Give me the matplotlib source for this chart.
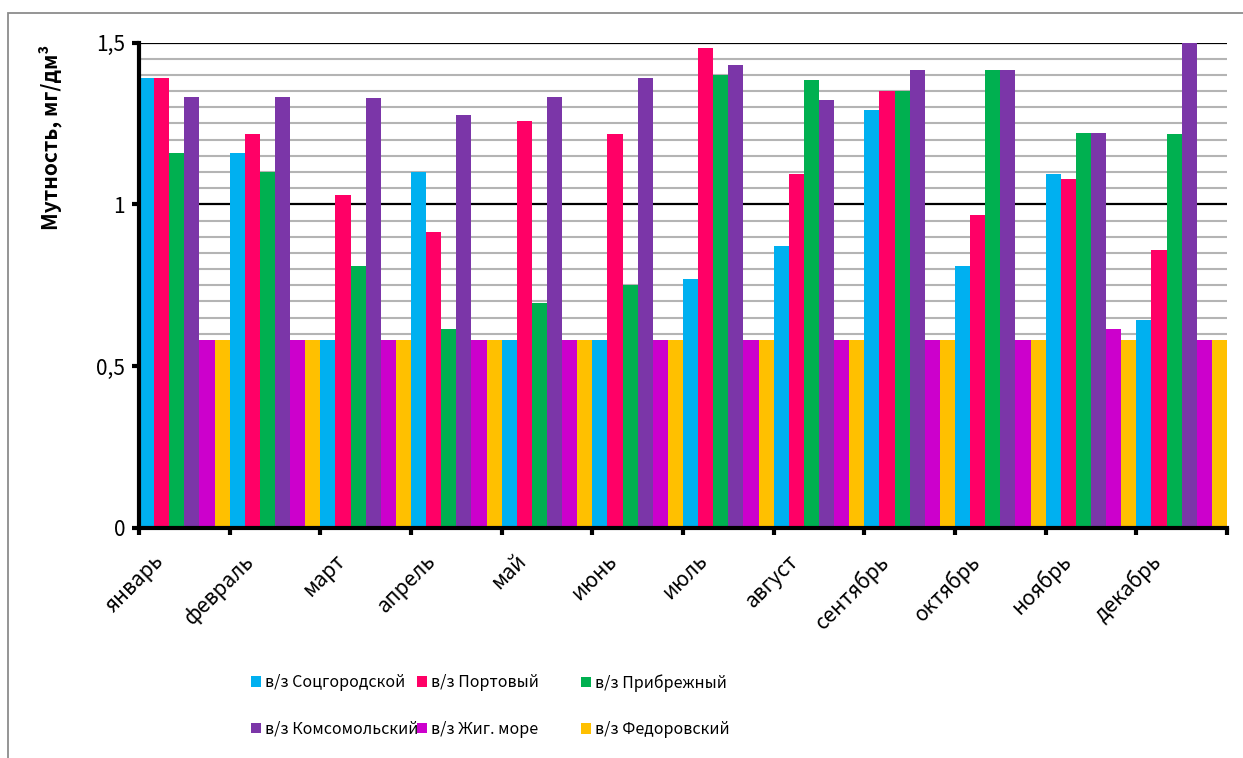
import matplotlib
matplotlib.use("Agg")
import matplotlib.pyplot as plt
from matplotlib.patches import Rectangle, Patch
from matplotlib.ticker import MultipleLocator, FixedLocator
import matplotlib.transforms as mtransforms
import numpy as np

plt.rcParams['font.family'] = ['Noto Sans CJK SC', 'DejaVu Sans']

months = ['январь', 'февраль', 'март', 'апрель', 'май', 'июнь',
          'июль', 'август', 'сентябрь', 'октябрь', 'ноябрь', 'декабрь']

sotsgorodskoy = [1.39, 1.16, 0.58, 1.10, 0.58, 0.58, 0.77, 0.87, 1.29, 0.81, 1.095, 0.643]
portovy = [1.39, 1.216, 1.03, 0.915, 1.256, 1.216, 1.482, 1.095, 1.35, 0.967, 1.077, 0.858]
pribrezhny = [1.158, 1.10, 0.811, 0.614, 0.694, 0.752, 1.401, 1.384, 1.35, 1.414, 1.221, 1.216]
komsomolsky = [1.333, 1.333, 1.327, 1.275, 1.333, 1.39, 1.432, 1.322, 1.414, 1.414, 1.221, 1.5]
zhig_more = [0.58, 0.58, 0.58, 0.58, 0.58, 0.58, 0.58, 0.58, 0.58, 0.58, 0.614, 0.58]
fedorovsky = [0.58] * 12

series = [sotsgorodskoy, portovy, pribrezhny, komsomolsky, zhig_more, fedorovsky]
names = ['в/з Соцгородской', 'в/з Портовый', 'в/з Прибрежный',
         'в/з Комсомольский', 'в/з Жиг. море', 'в/з Федоровский']
colors = ['#00b0f0', '#ff0066', '#00b050', '#7b36a8', '#cc00cc', '#ffc000']

W, H = 1243, 758
fig = plt.figure(figsize=(W / 100, H / 100), dpi=100)

# outer chart frame (runs off the right/bottom edge)
fig.add_artist(Rectangle((8 / W, -0.05), 1.2, 1 - 13 / H + 0.05,
                         transform=fig.transFigure, fill=False,
                         edgecolor='#8c8c8c', linewidth=1.3))

ax = fig.add_axes([139 / W, 1 - 528 / H, (1227 - 139) / W, (528 - 42.5) / H])

x = np.arange(len(months))
bw = 1 / 6
for i, (vals, c) in enumerate(zip(series, colors)):
    ax.bar(x - 0.5 + bw * (i + 0.5), vals, width=bw, color=c, zorder=3)

ax.set_xlim(-0.5, len(months) - 0.5)
ax.set_ylim(0, 1.5)

# grid
ax.yaxis.set_major_locator(MultipleLocator(0.5))
ax.yaxis.set_minor_locator(MultipleLocator(0.05))
ax.grid(axis='y', which='minor', color='#b4b4b4', linewidth=1.5, zorder=1)
ax.grid(axis='y', which='major', color='black', linewidth=1.6, zorder=2)
ax.set_axisbelow(True)

ax.set_yticks([0, 0.5, 1, 1.5])
ax.set_yticklabels(['0', '0,5', '1', '1,5'], fontsize=15)
ax.tick_params(axis='y', which='major', length=5, width=3, direction='out', pad=5)
ax.tick_params(axis='y', which='minor', length=0)

# month labels at centres, tick marks at category boundaries
ax.set_xticks(x)
ax.set_xticklabels(months, fontsize=15, rotation=45, ha='right', va='top',
                   rotation_mode='anchor')
ax.xaxis.set_minor_locator(FixedLocator(np.arange(-0.5, len(months), 1.0)))
ax.tick_params(axis='x', which='major', length=0, pad=16)
ax.tick_params(axis='x', which='minor', length=5, width=3, direction='out')
shift = mtransforms.ScaledTranslation(-32 / 100, 0, fig.dpi_scale_trans)
for lab in ax.get_xticklabels():
    lab.set_transform(lab.get_transform() + shift)

for side in ['top', 'right']:
    ax.spines[side].set_visible(False)
ax.spines['left'].set_linewidth(3)
ax.spines['bottom'].set_linewidth(3)
ax.spines['left'].set_zorder(5)
ax.spines['bottom'].set_zorder(5)

fig.text(50 / W, 1 - 137 / H, 'Мутность, мг/дм³', rotation=90,
         ha='center', va='center', fontsize=15, fontweight='bold')

# legend: three columns placed separately
col_x = [251, 417, 581]
for k in range(3):
    handles = [Patch(facecolor=colors[k], edgecolor='none'),
               Patch(facecolor=colors[k + 3], edgecolor='none')]
    leg = fig.legend(handles, [names[k], names[k + 3]],
                     loc='upper left', bbox_to_anchor=(col_x[k] / W, 1 - 674 / H),
                     frameon=False, fontsize=11.5, handlelength=0.65,
                     handleheight=0.65, handletextpad=0.2, labelspacing=1.85,
                     borderpad=0, borderaxespad=0)

fig.savefig('out.png', dpi=100)
